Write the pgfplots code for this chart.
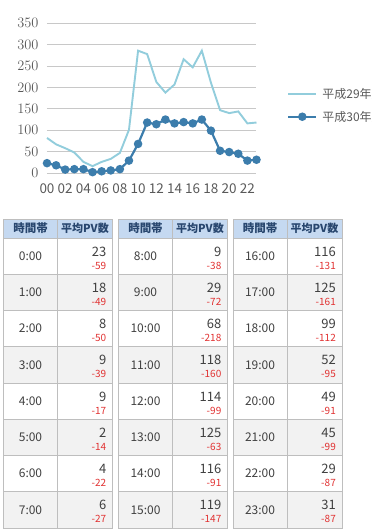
\documentclass[border=0pt]{standalone}
\usepackage{fontspec}
\setmainfont{Noto Sans CJK JP}
\usepackage{pgfplots}
\pgfplotsset{compat=1.18}
\definecolor{lightline}{RGB}{146,205,220}
\definecolor{darkline}{RGB}{60,125,172}
\definecolor{gridc}{RGB}{200,200,200}
\definecolor{txt}{RGB}{89,89,89}
\definecolor{txtb}{RGB}{64,64,64}
\definecolor{hdrbg}{RGB}{197,217,241}
\definecolor{hdrtxt}{RGB}{40,70,110}
\definecolor{rowgrey}{RGB}{242,242,242}
\definecolor{bord}{RGB}{190,190,190}
\definecolor{diffred}{RGB}{225,50,50}
\newcommand{\drawtable}[2]{%
  \fill[hdrbg] (#1,-219) rectangle ++(109,-19);
  \node[inner sep=0pt, font=\bfseries\fontsize{11.5}{13}\selectfont, text=hdrtxt] at (#1+27,-228.5) {時間帯};
  \node[inner sep=0pt, font=\bfseries\fontsize{11}{13}\selectfont, text=hdrtxt] at (#1+81.5,-228.5) {平均PV数};
  \foreach \h/\v/\d [count=\i from 0] in {#2} {
    \pgfmathsetmacro\yt{-238-\i*36.25}
    \pgfmathtruncatemacro\odd{mod(\i,2)}
    \ifnum\odd=1 \fill[rowgrey] (#1,\yt) rectangle ++(109,-36.25); \fi
    \node[inner sep=0pt, font=\fontsize{12}{14}\selectfont, text=txtb] at (#1+27,\yt-18.1) {\h};
    \node[inner sep=0pt, anchor=east, font=\fontsize{13}{14}\selectfont, text=txtb] at (#1+103,\yt-13.5) {\v};
    \node[inner sep=0pt, anchor=east, font=\fontsize{10}{11}\selectfont, text=diffred] at (#1+103,\yt-27.5) {\d};
  }
  \draw[bord, line width=1pt] (#1,-219) rectangle (#1+109,-528);
  \draw[bord, line width=1pt] (#1+54,-219) -- (#1+54,-528);
  \foreach \k in {0,...,7} {\draw[bord, line width=1pt] (#1,-238-\k*36.25) -- (#1+109,-238-\k*36.25);}
}
\begin{document}
\begin{tikzpicture}[x=1pt,y=1pt]
\useasboundingbox (0,0) rectangle (372,-531);
\clip (0,0) rectangle (372,-531);
\begin{axis}[
  at={(47pt,-173pt)}, anchor=south west,
  scale only axis, width=209.5pt, height=149.7pt,
  xmin=0, xmax=23, ymin=0, ymax=350,
  ytick={0,50,...,350},
  xtick={0,2,...,22},
  xticklabels={00,02,04,06,08,10,12,14,16,18,20,22},
  ymajorgrids, grid style={gridc, line width=0.8pt},
  axis line style={draw=none},
  major tick style={draw=none},
  tick label style={font=\fontsize{13.5}{15}\selectfont, text=txt},
  yticklabel style={xshift=-5pt},
  xticklabel style={yshift=-7pt},
  clip=false,
  legend style={at={(rel axis cs:1.1456,0.4516)}, anchor=west, draw=none, fill=none,
     inner sep=0pt, font=\fontsize{12}{14}\selectfont, text=txt,
     row sep=11pt, nodes={inner sep=0pt},
     /tikz/every odd column/.append style={column sep=5pt}},
  legend cell align=left,
  legend image code/.code={
     \draw[mark repeat=2,mark phase=2,#1] plot coordinates {(0pt,0pt) (14pt,0pt) (28pt,0pt)};
  },
]
\addplot[lightline, line width=1.9pt, mark=none] coordinates {
(0,82) (1,67) (2,58) (3,48) (4,26) (5,16) (6,26) (7,33) (8,47) (9,101) (10,286) (11,278)
(12,213) (13,188) (14,207) (15,266) (16,247) (17,286) (18,211) (19,147) (20,140) (21,144) (22,116) (23,118)};
\addlegendentry{平成29年度}
\addplot[darkline, line width=2.2pt, mark=*, mark size=3.1pt, mark options={fill=darkline, draw=darkline}] coordinates {
(0,23) (1,18) (2,8) (3,9) (4,9) (5,2) (6,4) (7,6) (8,9) (9,29) (10,68) (11,118)
(12,114) (13,125) (14,116) (15,119) (16,116) (17,125) (18,99) (19,52) (20,49) (21,45) (22,29) (23,31)};
\addlegendentry{平成30年度}
\end{axis}
\drawtable{3.5}{0:00/23/-59, 1:00/18/-49, 2:00/8/-50, 3:00/9/-39, 4:00/9/-17, 5:00/2/-14, 6:00/4/-22, 7:00/6/-27}
\drawtable{118.5}{8:00/9/-38, 9:00/29/-72, 10:00/68/-218, 11:00/118/-160, 12:00/114/-99, 13:00/125/-63, 14:00/116/-91, 15:00/119/-147}
\drawtable{233}{16:00/116/-131, 17:00/125/-161, 18:00/99/-112, 19:00/52/-95, 20:00/49/-91, 21:00/45/-99, 22:00/29/-87, 23:00/31/-87}
\end{tikzpicture}
\end{document}
